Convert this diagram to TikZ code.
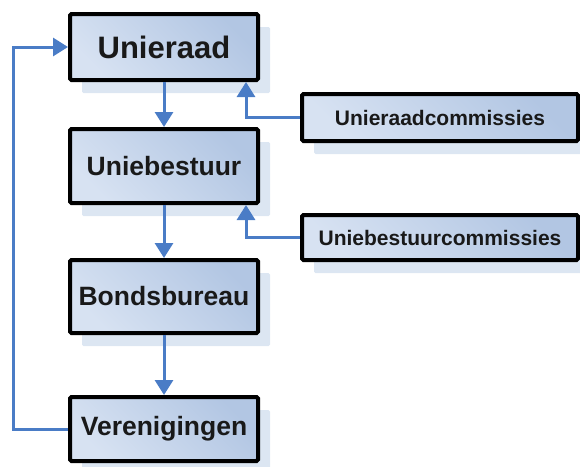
\documentclass[tikz,border=0pt]{standalone}
\usepackage{fontspec}
\setmainfont{Liberation Sans}
\usetikzlibrary{arrows.meta,shadows,calc}
\definecolor{boxtop}{HTML}{D7E2F2}
\definecolor{boxbot}{HTML}{B2C6E3}
\definecolor{shadowc}{HTML}{DCE6F2}
\definecolor{linec}{HTML}{4A7CC6}
\begin{document}
\begin{tikzpicture}[x=1pt,y=-1pt,
  orgbox/.style={draw=black, line width=4pt, rounded corners=1.5pt, inner sep=0pt,
    left color=boxtop, right color=boxbot, shading angle=135, font=\bfseries, text=black!90,
    drop shadow={shadow xshift=12pt, shadow yshift=-13pt, fill=shadowc, opacity=1, draw=none}},
  mainbox/.style={orgbox, minimum width=188pt},
  combox/.style={orgbox, minimum width=276pt, font=\bfseries\fontsize{21}{24}\selectfont},
  conn/.style={draw=linec, line width=3pt, -{Triangle[width=18pt,length=15pt]}}]
\useasboundingbox (0,0) rectangle (580,466);
\node[mainbox, minimum height=66pt, font=\bfseries\fontsize{31}{34}\selectfont] (ur) at (164,47) {Unieraad};
\node[mainbox, minimum height=74pt, font=\bfseries\fontsize{26.5}{30}\selectfont] (ub) at (164,166) {Uniebestuur};
\node[mainbox, minimum height=73pt, font=\bfseries\fontsize{26.5}{30}\selectfont] (bb) at (164,296.5) {Bondsbureau};
\node[mainbox, minimum height=64pt, font=\bfseries\fontsize{26.5}{30}\selectfont] (vr) at (164,429) {Verenigingen};
\node[combox, minimum height=47pt] (urc) at (440,117.5) {Unieraadcommissies};
\node[combox, minimum height=45pt] (ubc) at (440,237.5) {Uniebestuurcommissies};
\draw[conn] (ur.south) -- (ub.north);
\draw[conn] (ub.south) -- (bb.north);
\draw[conn] (bb.south) -- (vr.north);
\draw[conn] (urc.west) -| ([xshift=82pt]ur.south);
\draw[conn] (ubc.west) -| ([xshift=82pt]ub.south);
\coordinate (fb) at (13,429);
\draw[conn] (vr.west) -- (fb) |- (ur.west);
\end{tikzpicture}
\end{document}
